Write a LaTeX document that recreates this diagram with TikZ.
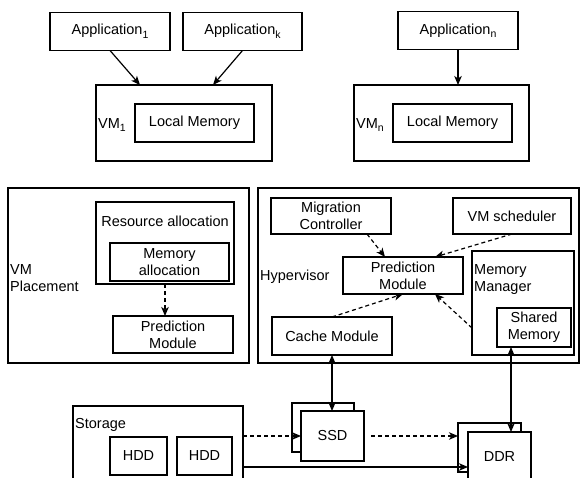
\documentclass[tikz,border=0pt]{standalone}
\usepackage{fontspec}
\setmainfont{Liberation Sans}
\usetikzlibrary{arrows.meta,calc}
\newcommand\mysub[1]{\raisebox{-3.5pt}{\fontsize{10.5}{10.5}\selectfont #1}}
\begin{document}
\begin{tikzpicture}[x=1pt,y=-1pt,
  font=\fontsize{14.5}{17}\selectfont,
  box/.style={draw=black,line width=1.2pt,inner sep=0pt,outer sep=0pt,align=center,fill=white},
  lbl/.style={inner sep=0pt,anchor=west,align=left},
  arr/.style={line width=1.2pt,-{Stealth[length=9pt,width=7.5pt,inset=2.5pt]}},
  barr/.style={line width=1.2pt,{Stealth[length=9pt,width=7.5pt,inset=2.5pt]}-{Stealth[length=9pt,width=7.5pt,inset=2.5pt]}},
  darr/.style={arr,dash pattern=on 4pt off 3pt}]
\clip (0,0) rectangle (580,478);
\fill[white] (0,0) rectangle (580,478);
% top row
\node[box,minimum width=120,minimum height=38] (app1) at (110,31.5) {Application\mysub{1}};
\node[box,minimum width=119,minimum height=38] (appk) at (242.5,31.5) {Application\mysub{k}};
\node[box,minimum width=176,minimum height=76] (vm1) at (184,123) {};
\node[box,minimum width=119,minimum height=38] (lm1) at (194.5,123) {Local Memory};
\node[lbl] (vm1l) at (98,125) {VM\mysub{1}};
\node[box,minimum width=120,minimum height=38] (appn) at (458,30.5) {Application\mysub{n}};
\node[box,minimum width=175,minimum height=76] (vmn) at (441.5,123) {};
\node[box,minimum width=119,minimum height=38] (lmn) at (452.5,123) {Local Memory};
\node[lbl] (vmnl) at (356,125) {VM\mysub{n}};
\draw[arr] (app1.south) -- ($(vm1.north)+(-44,0)$);
\draw[arr] (appk.south) -- ($(vm1.north)+(29,0)$);
\draw[arr] (appn.south) -- (appn.south |- vmn.north);
% VM placement
\node[box,minimum width=241,minimum height=175] (vmp) at (128.5,275.5) {};
\node[lbl] (vmpl) at (10,278) {VM\\Placement};
\node[box,minimum width=138,minimum height=82] (ra) at (165,243) {};
\node[inner sep=0pt] (ral) at (165,221) {Resource allocation};
\node[box,minimum width=119,minimum height=38] (ma) at (169.5,262) {Memory\\allocation};
\node[box,minimum width=120,minimum height=37] (pm1) at (173,334.5) {Prediction\\Module};
\draw[darr] (ra.south) -- (ra.south |- pm1.north);
% Hypervisor
\node[box,minimum width=321,minimum height=175] (hyp) at (418.5,275.5) {};
\node[lbl] (hypl) at (260,277) {Hypervisor};
\node[box,minimum width=120,minimum height=36] (mc) at (331,216) {Migration\\Controller};
\node[box,minimum width=118,minimum height=36] (vms) at (512,216) {VM scheduler};
\node[box,minimum width=120,minimum height=37] (pm2) at (403,275.5) {Prediction\\Module};
\node[box,minimum width=102,minimum height=104] (mm) at (523,303) {};
\node[lbl] (mml) at (474,279.5) {Memory\\Manager};
\node[box,minimum width=74,minimum height=39] (sm) at (534,327.5) {Shared\\Memory};
\node[box,minimum width=120,minimum height=38] (cm) at (332,336) {Cache Module};
\draw[darr] ($(mc.south)+(36,0)$) -- ($(pm2.north)+(-18,0)$);
\draw[darr] (vms.south) -- ($(pm2.north)+(32,0)$);
\draw[darr] (cm.north) -- (pm2.south);
\draw[darr] ($(mm.west)+(0,25)$) -- ($(pm2.south)+(32,0)$);
% bottom
\node[box,minimum width=170,minimum height=84] (sto) at (158,448) {};
\node[lbl] (stol) at (75,425) {Storage};
\node[box,minimum width=57,minimum height=38] (hdd1) at (138.5,456) {HDD};
\node[box,minimum width=55,minimum height=38] (hdd2) at (204.5,456) {HDD};
\node[box,minimum width=62,minimum height=49] (ssdb) at (323,427.5) {};
\node[box,minimum width=63,minimum height=50] (ssd) at (332.5,436) {SSD};
\node[box,minimum width=63,minimum height=49] (ddrb) at (489.5,447.5) {};
\node[box,minimum width=63,minimum height=50] (ddr) at (499.5,457) {DDR};
\coordinate (ddrin) at ($(ddr.west)+(0,10)$);
\coordinate (stoout) at (sto.east |- ddrin);
\draw[barr] (cm.south) -- (cm.south |- ssd.north);
\draw[barr] ($(sm.south)+(-23,0)$) -- ($(ddr.north)+(11.5,0)$);
\draw[darr] (sto.east |- ssd.west) -- (ssd.west);
\draw[darr,shorten <=7pt] (ssd.east) -- (ssd.east -| ddrb.west);
\draw[arr] (stoout) -- (ddrin);
\end{tikzpicture}
\end{document}
